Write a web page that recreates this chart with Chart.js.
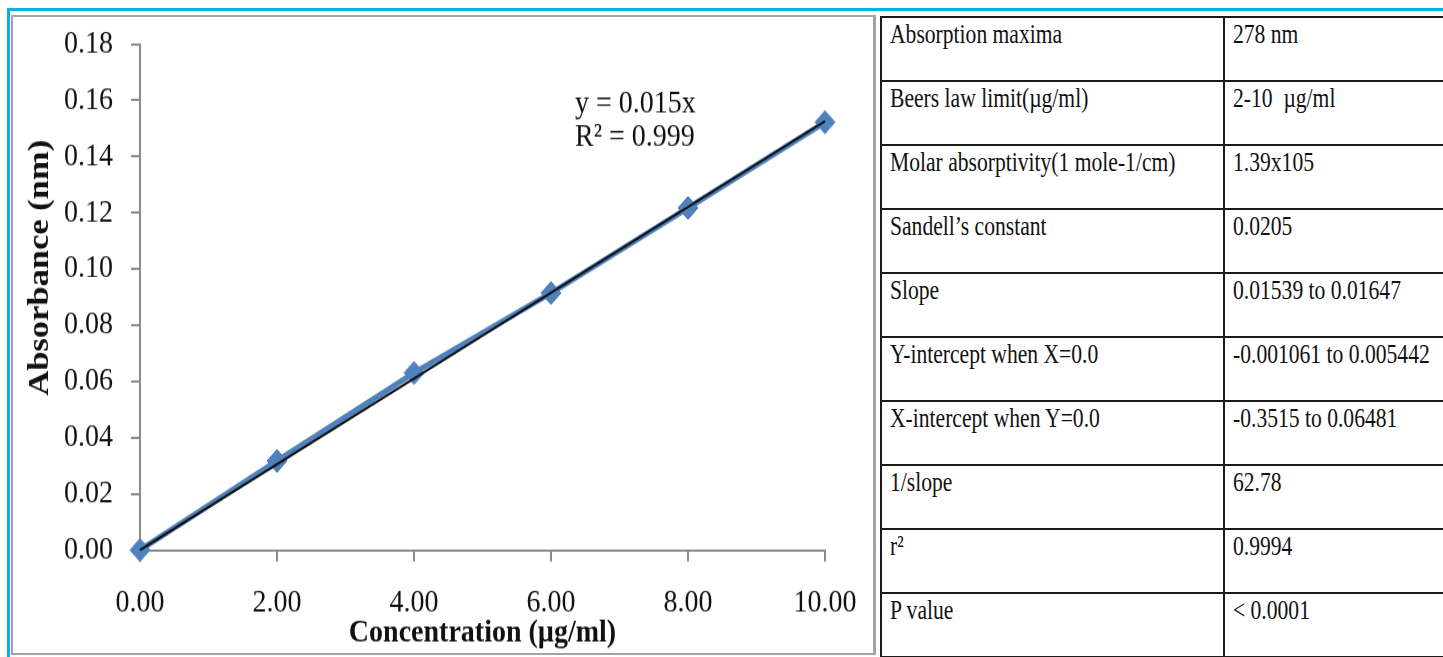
<!DOCTYPE html>
<html>
<head>
<meta charset="utf-8">
<script src="https://cdn.jsdelivr.net/npm/chart.js@4.4.0/dist/chart.umd.min.js"></script>
<style>
  html, body { margin: 0; padding: 0; background: #fff; width: 1443px; height: 657px; overflow: hidden; position: relative; }
  .cyan-top { position: absolute; left: 7px; top: 8px; width: 1436px; height: 3px; background: #0aaee8; }
  .cyan-left { position: absolute; left: 7px; top: 8px; width: 3px; height: 649px; background: #0aaee8; }
  .frame { position: absolute; left: 11px; top: 15px; width: 860px; height: 636px; border: 2px solid #a3a3a3; border-right-width: 3px; background: #fff; overflow: hidden; }
  /* the reference is stretched vertically, so the canvas is too */
  .plot { position: absolute; left: 0; top: 0; width: 860px; height: 553px; transform: scaleY(1.15); transform-origin: 0 0; }
  table { position: absolute; left: 880px; top: 16px; width: 643px; border-collapse: collapse; table-layout: fixed;
          font-family: "Liberation Serif", "Times New Roman", serif; font-size: 21.6px; line-height: 22px; }
  td { border: 2px solid #1a1a1a; height: 62px; padding: 0 0 0 8px; vertical-align: top; overflow: hidden; white-space: nowrap; }
  td span { display: inline-block; margin-top: 2px; color: #111; transform: scaleY(1.3); transform-origin: 0 0; }
</style>
</head>
<body>
<div class="cyan-top"></div>
<div class="cyan-left"></div>
<div class="frame">
  <div class="plot"><canvas id="chart" width="860" height="553"></canvas></div>
</div>
<table id="stats">
  <colgroup><col style="width:343px"><col style="width:300px"></colgroup>
  <tbody></tbody>
</table>

<script>
// calibration data
const concentration = [0, 2, 4, 6, 8, 10];
const absorbance = [0, 0.0317, 0.063, 0.0914, 0.1217, 0.1522];
// linear trendline (through origin), end points
const trendX = [0, 10];
const trendY = [0, 0.1525];

const xRange = [0, 10];
const yRange = [0, 0.18];
const xStep = 2;
const yStep = 0.02;

const xTitle = 'Concentration (µg/ml)';
const yTitle = 'Absorbance (nm)';
const equationLines = ['y = 0.015x', 'R² = 0.999'];

// optical characteristics table
const paramNames = [
  'Absorption maxima',
  'Beers law limit(µg/ml)',
  'Molar absorptivity(1 mole-1/cm)',
  'Sandell’s constant',
  'Slope',
  'Y-intercept when X=0.0',
  'X-intercept when Y=0.0',
  '1/slope',
  'r²',
  'P value'
];
const paramValues = [
  '278 nm',
  '2-10\u00a0 µg/ml',
  '1.39x105',
  '0.0205',
  '0.01539 to 0.01647',
  '-0.001061 to 0.005442',
  '-0.3515 to 0.06481',
  '62.78',
  '0.9994',
  '< 0.0001'
];

const tbody = document.querySelector('#stats tbody');
paramNames.forEach((name, i) => {
  const tr = document.createElement('tr');
  [name, paramValues[i]].forEach(txt => {
    const td = document.createElement('td');
    const sp = document.createElement('span');
    sp.textContent = txt;
    td.appendChild(sp);
    tr.appendChild(td);
  });
  tbody.appendChild(tr);
});

const axisGray = '#8c8c8c';
const serif = 'Liberation Serif';

const extraText = {
  id: 'extraText',
  afterDraw(chart) {
    const c = chart.ctx;
    c.save();
    c.fillStyle = '#111';
    c.font = `bold 30px "${serif}"`;
    c.textAlign = 'center';
    c.textBaseline = 'middle';
    c.translate(27, 218);
    c.rotate(-Math.PI / 2);
    c.fillText(yTitle, 0, 0);
    c.restore();

    c.save();
    c.fillStyle = '#111';
    c.font = `28px "${serif}"`;
    c.textAlign = 'left';
    c.textBaseline = 'middle';
    equationLines.forEach((t, i) => c.fillText(t, 562, 76 + i * 29));
    c.restore();
  }
};

new Chart(document.getElementById('chart'), {
  type: 'scatter',
  data: {
    datasets: [
      {
        label: 'Linear (Absorbance)',
        data: trendX.map((x, i) => ({ x, y: trendY[i] })),
        showLine: true, borderColor: '#111', borderWidth: 2,
        pointRadius: 0, order: 0, clip: false
      },
      {
        label: 'Absorbance',
        data: concentration.map((x, i) => ({ x, y: absorbance[i] })),
        showLine: true, borderColor: '#4f81bd', backgroundColor: '#4f81bd', borderWidth: 5,
        pointStyle: 'rectRot', pointRadius: 10, pointBorderWidth: 1, pointBorderColor: '#4f81bd',
        order: 1, clip: false
      }
    ]
  },
  options: {
    responsive: false, animation: false, devicePixelRatio: 1,
    layout: { padding: { left: 0, right: 48, top: 23.5, bottom: 0 } },
    plugins: { legend: { display: false }, tooltip: { enabled: false } },
    scales: {
      x: {
        type: 'linear', min: xRange[0], max: xRange[1],
        border: { color: axisGray, width: 2 },
        grid: { drawOnChartArea: false, tickLength: 10, color: axisGray, lineWidth: 2 },
        ticks: { stepSize: xStep, padding: 19, color: '#111', maxRotation: 0,
                 font: { family: serif, size: 28 }, callback: v => v.toFixed(2) },
        title: { display: true, text: xTitle, color: '#111', padding: { top: 0, bottom: 0 },
                 font: { family: serif, size: 28, weight: 'bold' } },
        afterFit: s => { s.height = 89.5; s.paddingLeft = 0; s.paddingRight = 0; }
      },
      y: {
        min: yRange[0], max: yRange[1],
        border: { color: axisGray, width: 2 },
        grid: { drawOnChartArea: false, tickLength: 9, color: axisGray, lineWidth: 2 },
        ticks: { stepSize: yStep, padding: 18, color: '#111',
                 font: { family: serif, size: 28 }, callback: v => v.toFixed(2) },
        afterFit: s => { s.width = 127; s.paddingTop = 0; s.paddingBottom = 0; }
      }
    }
  },
  plugins: [extraText]
});
</script>
</body>
</html>
